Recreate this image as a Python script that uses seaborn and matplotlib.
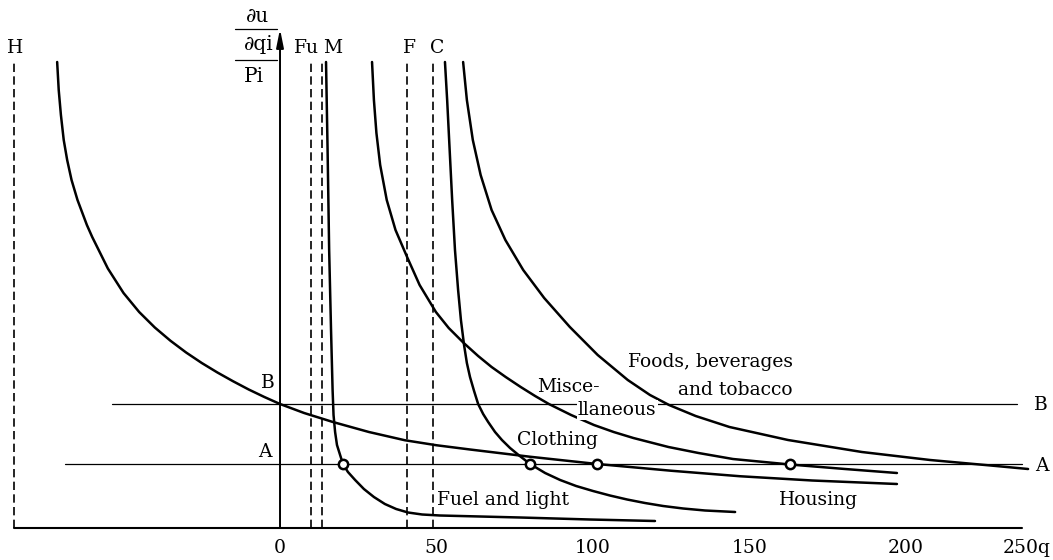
import matplotlib
matplotlib.use("Agg")
import matplotlib.pyplot as plt
import seaborn as sns
import pandas as pd

# ---------------- data ----------------
housing_q = [-71.2, -70.7, -70.0, -69.1, -68.0, -66.6, -64.7, -61.7, -60.0, -55.0, -50.0, -45.0,
             -40.0, -35.0, -30.0, -25.0, -20.0, -15.0, -10.0, -5.0, 0.0, 7.7, 16.9, 28.4, 39.9,
             50.0, 60.7, 79.9, 101.3, 125.0, 147.0, 170.0, 197.1]
housing_y = [93.2, 87.6, 82.6, 77.6, 73.6, 69.6, 65.6, 60.6, 58.2, 51.9, 47.0, 43.2,
             40.1, 37.45, 35.1, 33.0, 31.1, 29.35, 27.7, 26.2, 24.8, 23.0, 21.2, 19.2, 17.55,
             16.55, 15.7, 14.25, 12.8, 11.45, 10.35, 9.5, 8.8]

fuel_q = [14.7, 15.2, 15.7, 16.3, 16.8, 17.1, 17.6, 18.2, 19.2, 20.1, 21.7, 24.0, 26.8, 30.0,
          33.5, 37.1, 40.9, 45.4, 51.1, 63.9, 76.7, 99.0, 119.8]
fuel_y = [93.2, 75.6, 55.6, 39.6, 27.6, 22.6, 19.2, 16.6, 14.6, 12.8, 11.2, 9.6, 7.8, 6.2,
          4.8, 3.8, 3.1, 2.7, 2.5, 2.3, 2.1, 1.7, 1.4]

clothing_q = [52.7, 53.4, 54.2, 55.0, 55.9, 56.9, 57.8, 58.8, 59.7, 60.7, 62.0, 63.3, 64.9, 66.5,
              68.7, 70.9, 73.5, 76.4, 79.9, 84.7, 89.5, 94.6, 100.0, 105.4, 110.9, 116.6, 122.4,
              128.8, 135.8, 145.4]
clothing_y = [93.2, 85.6, 75.6, 65.6, 55.6, 47.6, 41.6, 36.6, 33.0, 30.2, 27.4, 24.8, 22.8, 21.2,
              19.2, 17.6, 16.0, 14.5, 12.8, 11.0, 9.6, 8.4, 7.4, 6.5, 5.7, 5.0, 4.4,
              3.9, 3.5, 3.2]

misc_q = [29.4, 30.0, 30.8, 32.0, 34.1, 36.9, 40.6, 44.6, 49.8, 53.9, 58.7, 63.3, 67.6, 72.1,
          76.9, 81.5, 85.9, 93.0, 100.3, 106.6, 112.9, 124.1, 133.7, 144.7, 162.9, 180.5, 197.1]
misc_y = [93.2, 85.6, 79.0, 72.6, 65.6, 59.6, 54.2, 48.6, 43.2, 40.0, 37.0, 34.4, 32.2, 30.2,
          28.2, 26.4, 24.8, 22.6, 20.6, 19.2, 18.0, 16.2, 15.0, 13.8, 12.7, 11.8, 11.0]

foods_q = [58.5, 59.7, 61.6, 64.1, 67.6, 72.0, 77.7, 84.4, 92.6, 101.5, 111.1, 118.2, 124.3,
           132.8, 143.6, 162.3, 185.9, 207.7, 228.8, 239.0]
foods_y = [93.2, 85.6, 77.6, 70.6, 63.6, 57.6, 51.6, 46.0, 40.2, 34.6, 29.6, 26.6, 24.6,
           22.4, 20.2, 17.6, 15.2, 13.6, 12.4, 11.8]

# equilibrium points on line A
points_q = [20.1, 79.9, 101.3, 162.9]
level_A = 12.8
level_B = 24.8

# asymptotes (dashed verticals) and their labels
asym_names = ["H", "Fu", "M", "F", "C"]
asym_q = [-85.0, 10.0, 13.5, 40.5, 49.0]
asym_label_q = [-84.7, 8.6, 16.9, 41.5, 50.2]

tick_vals = [0, 50, 100, 150, 200]
tick_labels = ["0", "50", "100", "150", "200"]
last_tick_label = "250q"

curve_labels = ["Foods, beverages", "and tobacco", "Misce-", "llaneous", "Clothing", "Fuel and light", "Housing"]
curve_label_q = [111.2, 127.2, 82.1, 95.2, 75.7, 50.2, 159.4]
curve_label_y = [33.2, 27.6, 28.2, 23.6, 17.6, 5.6, 5.6]

# ---------------- figure ----------------
sns.set_theme(style="white")
plt.rcParams["font.family"] = ["DejaVu Serif"]
plt.rcParams["text.color"] = "black"

fig = plt.figure(figsize=(10.53, 5.6), dpi=100)
ax = fig.add_axes([0, 0, 1, 1])
ax.set_xlim(-89.46, 246.96)
ax.set_ylim(-6.4, 105.6)
ax.axis("off")

frames = []
for name, q, y in [("Housing", housing_q, housing_y), ("Fuel", fuel_q, fuel_y),
                   ("Clothing", clothing_q, clothing_y), ("Misc", misc_q, misc_y),
                   ("Foods", foods_q, foods_y)]:
    frames.append(pd.DataFrame({"curve": name, "q": q, "y": y}))
df = pd.concat(frames, ignore_index=True)

sns.lineplot(data=df, x="q", y="y", units="curve", estimator=None, sort=False,
             color="black", lw=1.8, ax=ax, legend=False)

# horizontal lines A and B
ax.plot([-68.7, 237.1], [level_A, level_A], color="black", lw=0.9, zorder=2)
ax.plot([-53.7, 235.5], [level_B, level_B], color="black", lw=0.9, zorder=2)

# dashed asymptotes
for q in asym_q:
    ax.plot([q, q], [0, 93.2], color="black", lw=1.2, dashes=(5, 2.6), zorder=2)
for name, q in zip(asym_names, asym_label_q):
    ax.text(q, 96.0, name, ha="center", va="center", fontsize=13.5, color="black")

# baseline and y axis
ax.plot([-85.0, 237.1], [0, 0], color="black", lw=1.5, zorder=2)
ax.annotate("", xy=(0, 99.8), xytext=(0, 0),
            arrowprops=dict(arrowstyle="-|>,head_length=0.9,head_width=0.18",
                            color="black", lw=1.4, shrinkA=0, shrinkB=0))

# y axis label as stacked fraction
ax.text(-7.2, 102.4, "∂u", ha="center", va="center", fontsize=14.5, color="black")
ax.plot([-14.4, -1.0], [99.8, 99.8], color="black", lw=0.9)
ax.text(-6.7, 96.8, "∂qi", ha="center", va="center", fontsize=14.5, color="black")
ax.plot([-14.4, -1.0], [93.6, 93.6], color="black", lw=0.9)
ax.text(-8.3, 90.4, "Pi", ha="center", va="center", fontsize=14.5, color="black")

# equilibrium points
pts = pd.DataFrame({"q": points_q, "y": [level_A] * len(points_q)})
sns.scatterplot(data=pts, x="q", y="y", s=45, facecolor="white", edgecolor="black",
                linewidth=1.8, zorder=5, ax=ax, legend=False)

# tick labels
for v, lab in zip(tick_vals, tick_labels):
    ax.text(v, -4.0, lab, ha="center", va="center", fontsize=13.5, color="black")
ax.text(246.3, -4.0, last_tick_label, ha="right", va="center", fontsize=13.5, color="black")

# A / B labels
ax.text(-3.8, 29.0, "B", ha="center", va="center", fontsize=13.5, color="black")
ax.text(-4.8, 15.2, "A", ha="center", va="center", fontsize=13.5, color="black")
ax.text(243.1, 24.6, "B", ha="center", va="center", fontsize=13.5, color="black")
ax.text(243.5, 12.4, "A", ha="center", va="center", fontsize=13.5, color="black")

# curve labels
for lab, q, y in zip(curve_labels, curve_label_q, curve_label_y):
    kw = {}
    if lab == "llaneous":
        kw["bbox"] = dict(facecolor="white", edgecolor="none", pad=1.0)
    ax.text(q, y, lab, ha="left", va="center", fontsize=13.5, zorder=4, color="black", **kw)

fig.savefig("out.png", dpi=100, facecolor="white")
